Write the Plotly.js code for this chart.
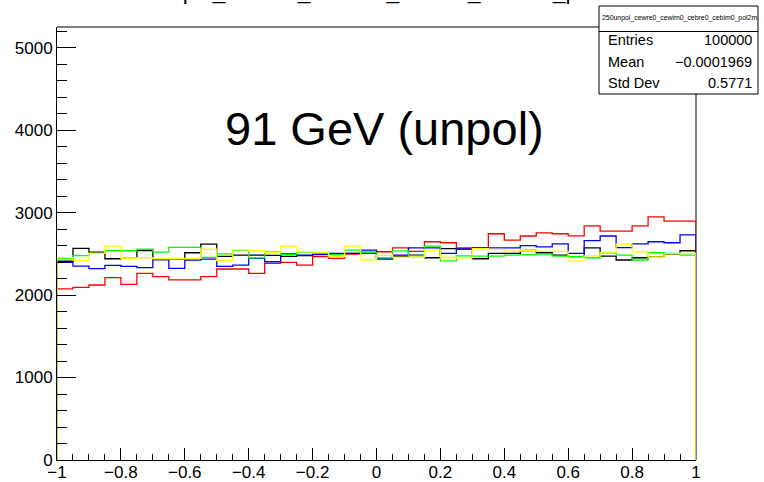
<!DOCTYPE html>
<html>
<head>
<meta charset="utf-8">
<script src="https://cdn.plot.ly/plotly-3.0.1.min.js"></script>
<style>
html,body{margin:0;padding:0;background:#fff;}
#chart{width:764px;height:482px;}
</style>
</head>
<body>
<div id="chart"></div>
<script>
// Histogram binning
const nBins = 40;
const xMin = -1;
const xMax = 1;

// Bin contents
const blackVals = [2410,2566,2520,2440,2444,2540,2430,2435,2513,2618,
                   2470,2485,2485,2480,2470,2478,2495,2495,2505,2505,
                   2440,2470,2485,2452,2562,2557,2440,2505,2505,2540,
                   2513,2485,2465,2573,2473,2425,2452,2465,2497,2537];
const redVals   = [2074,2094,2122,2211,2130,2263,2223,2183,2183,2223,
                   2316,2316,2263,2384,2396,2364,2465,2445,2497,2520,
                   2525,2573,2530,2646,2634,2573,2573,2743,2666,2716,
                   2755,2743,2718,2839,2775,2775,2839,2948,2896,2896];
const blueVals  = [2396,2350,2320,2360,2348,2332,2430,2324,2424,2435,
                   2348,2364,2444,2404,2500,2485,2490,2505,2505,2545,
                   2440,2485,2573,2573,2505,2560,2573,2573,2573,2600,
                   2585,2620,2505,2660,2716,2576,2620,2646,2634,2730];
const greenVals = [2440,2477,2505,2537,2537,2557,2520,2578,2578,2457,
                   2500,2545,2450,2520,2490,2520,2505,2490,2545,2515,
                   2452,2535,2476,2593,2414,2476,2473,2473,2485,2490,
                   2495,2473,2465,2452,2513,2485,2425,2513,2505,2485];
const yellowVals= [2454,2420,2505,2594,2444,2452,2440,2440,2445,2555,
                   2418,2550,2537,2515,2594,2525,2520,2465,2594,2428,
                   2480,2458,2458,2545,2455,2450,2563,2553,2533,2540,
                   2530,2530,2412,2475,2517,2618,2525,2462,2500,2505];

const seriesNames  = ['black','red','blue','green','yellow'];
const seriesColors = ['#000000','#ff0000','#0000ff','#00ff00','#ffff00'];
const seriesVals   = [blackVals, redVals, blueVals, greenVals, yellowVals];

const histTitle = '250unpol_cewre0_cewim0_cebre0_cebim0_pol2m';
const statLabels = ['Entries','Mean','Std Dev'];
const statValues = ['100000','\u22120.0001969','0.5771'];
const labelText = '91 GeV (unpol)';

const FONT = 'Liberation Sans, Arial, Helvetica, sans-serif';

const binW = (xMax - xMin) / nBins;
function stepTrace(vals, color, name){
  const xs = [xMin];
  const ys = [0];
  for (let i = 0; i < nBins; i++){ xs.push(xMin + i*binW); ys.push(vals[i]); }
  xs.push(xMax); ys.push(0);
  return {x: xs, y: ys, type:'scatter', mode:'lines', name:name,
          line:{shape:'hv', color:color, width:1.3}, hoverinfo:'skip', cliponaxis:false};
}
const traces = seriesVals.map((v,i)=>stepTrace(v, seriesColors[i], seriesNames[i]));

// geometry (paper coords)
const L = 57, R = 696, T = 27, B = 460, W = 764, H = 482;
const px = x => (x - L) / (R - L);
const py = y => (B - y) / (B - T);

const statAnn = [];
statLabels.forEach((lab, i) => {
  const yc = [40.5, 61.8, 83][i];
  statAnn.push({xref:'paper', yref:'paper', x:px(605.5), y:py(yc), xanchor:'left', yanchor:'middle',
    text:lab, showarrow:false, font:{family:FONT, size:14.5, color:'#000'}});
  statAnn.push({xref:'paper', yref:'paper', x:px(754), y:py(yc), xanchor:'right', yanchor:'middle',
    text:statValues[i], showarrow:false, font:{family:FONT, size:14.5, color:'#000'}});
});

const layout = {
  width: W, height: H,
  margin: {l: L, r: W - R, t: T, b: H - B, pad: 0},
  paper_bgcolor: '#fff', plot_bgcolor: '#fff',
  showlegend: false,
  title: {text: histTitle, font:{family:FONT, size:22.5, color:'#000'},
          x: 373.5/W, xref:'container', xanchor:'center',
          y: 1, yref:'container', yanchor:'bottom', pad:{b:1}},
  xaxis: {range:[xMin, xMax], dtick:0.2, tick0:-1, ticks:'inside', ticklen:12, tickwidth:1, tickcolor:'#000',
          minor:{dtick:0.05, ticks:'inside', ticklen:6, tickwidth:1, tickcolor:'#000', showgrid:false},
          showgrid:false, zeroline:false, showline:true, linecolor:'#000', linewidth:1, mirror:false,
          ticklabelstandoff:-3,
          tickfont:{family:FONT, size:17, color:'#000'}, layer:'above traces', fixedrange:true},
  yaxis: {range:[0, 5250], dtick:1000, tick0:0, tickformat:'d', ticks:'inside', ticklen:19, tickwidth:1, tickcolor:'#000',
          minor:{dtick:200, ticks:'inside', ticklen:10, tickwidth:1, tickcolor:'#000', showgrid:false},
          showgrid:false, zeroline:false, showline:true, linecolor:'#000', linewidth:1, mirror:false,
          tickfont:{family:FONT, size:17, color:'#000'}, layer:'above traces', fixedrange:true},
  shapes: [
    {type:'line', xref:'paper', yref:'paper', x0:0, x1:1, y0:1, y1:1, line:{color:'#000', width:1}, layer:'below'},
    {type:'line', xref:'paper', yref:'paper', x0:1, x1:1, y0:0, y1:1, line:{color:'#000', width:1}, layer:'below'},
    {type:'rect', xref:'paper', yref:'paper', x0:px(599), x1:px(758), y0:py(94), y1:py(6),
     line:{color:'#000', width:1}, fillcolor:'#fff', layer:'above'},
    {type:'line', xref:'paper', yref:'paper', x0:px(599), x1:px(758), y0:py(31.5), y1:py(31.5),
     line:{color:'#000', width:1}, layer:'above'}
  ],
  annotations: [
    {xref:'paper', yref:'paper', x:px(223), y:py(128), xanchor:'left', yanchor:'middle',
     text:labelText, showarrow:false, font:{family:FONT, size:47, color:'#000'}},
    {xref:'paper', yref:'paper', x:px(679), y:py(17.5), xanchor:'center', yanchor:'middle',
     text:histTitle, showarrow:false, font:{family:FONT, size:6.9, color:'#000'}}
  ].concat(statAnn)
};

Plotly.newPlot('chart', traces, layout, {staticPlot:true, displayModeBar:false});
</script>
</body>
</html>
